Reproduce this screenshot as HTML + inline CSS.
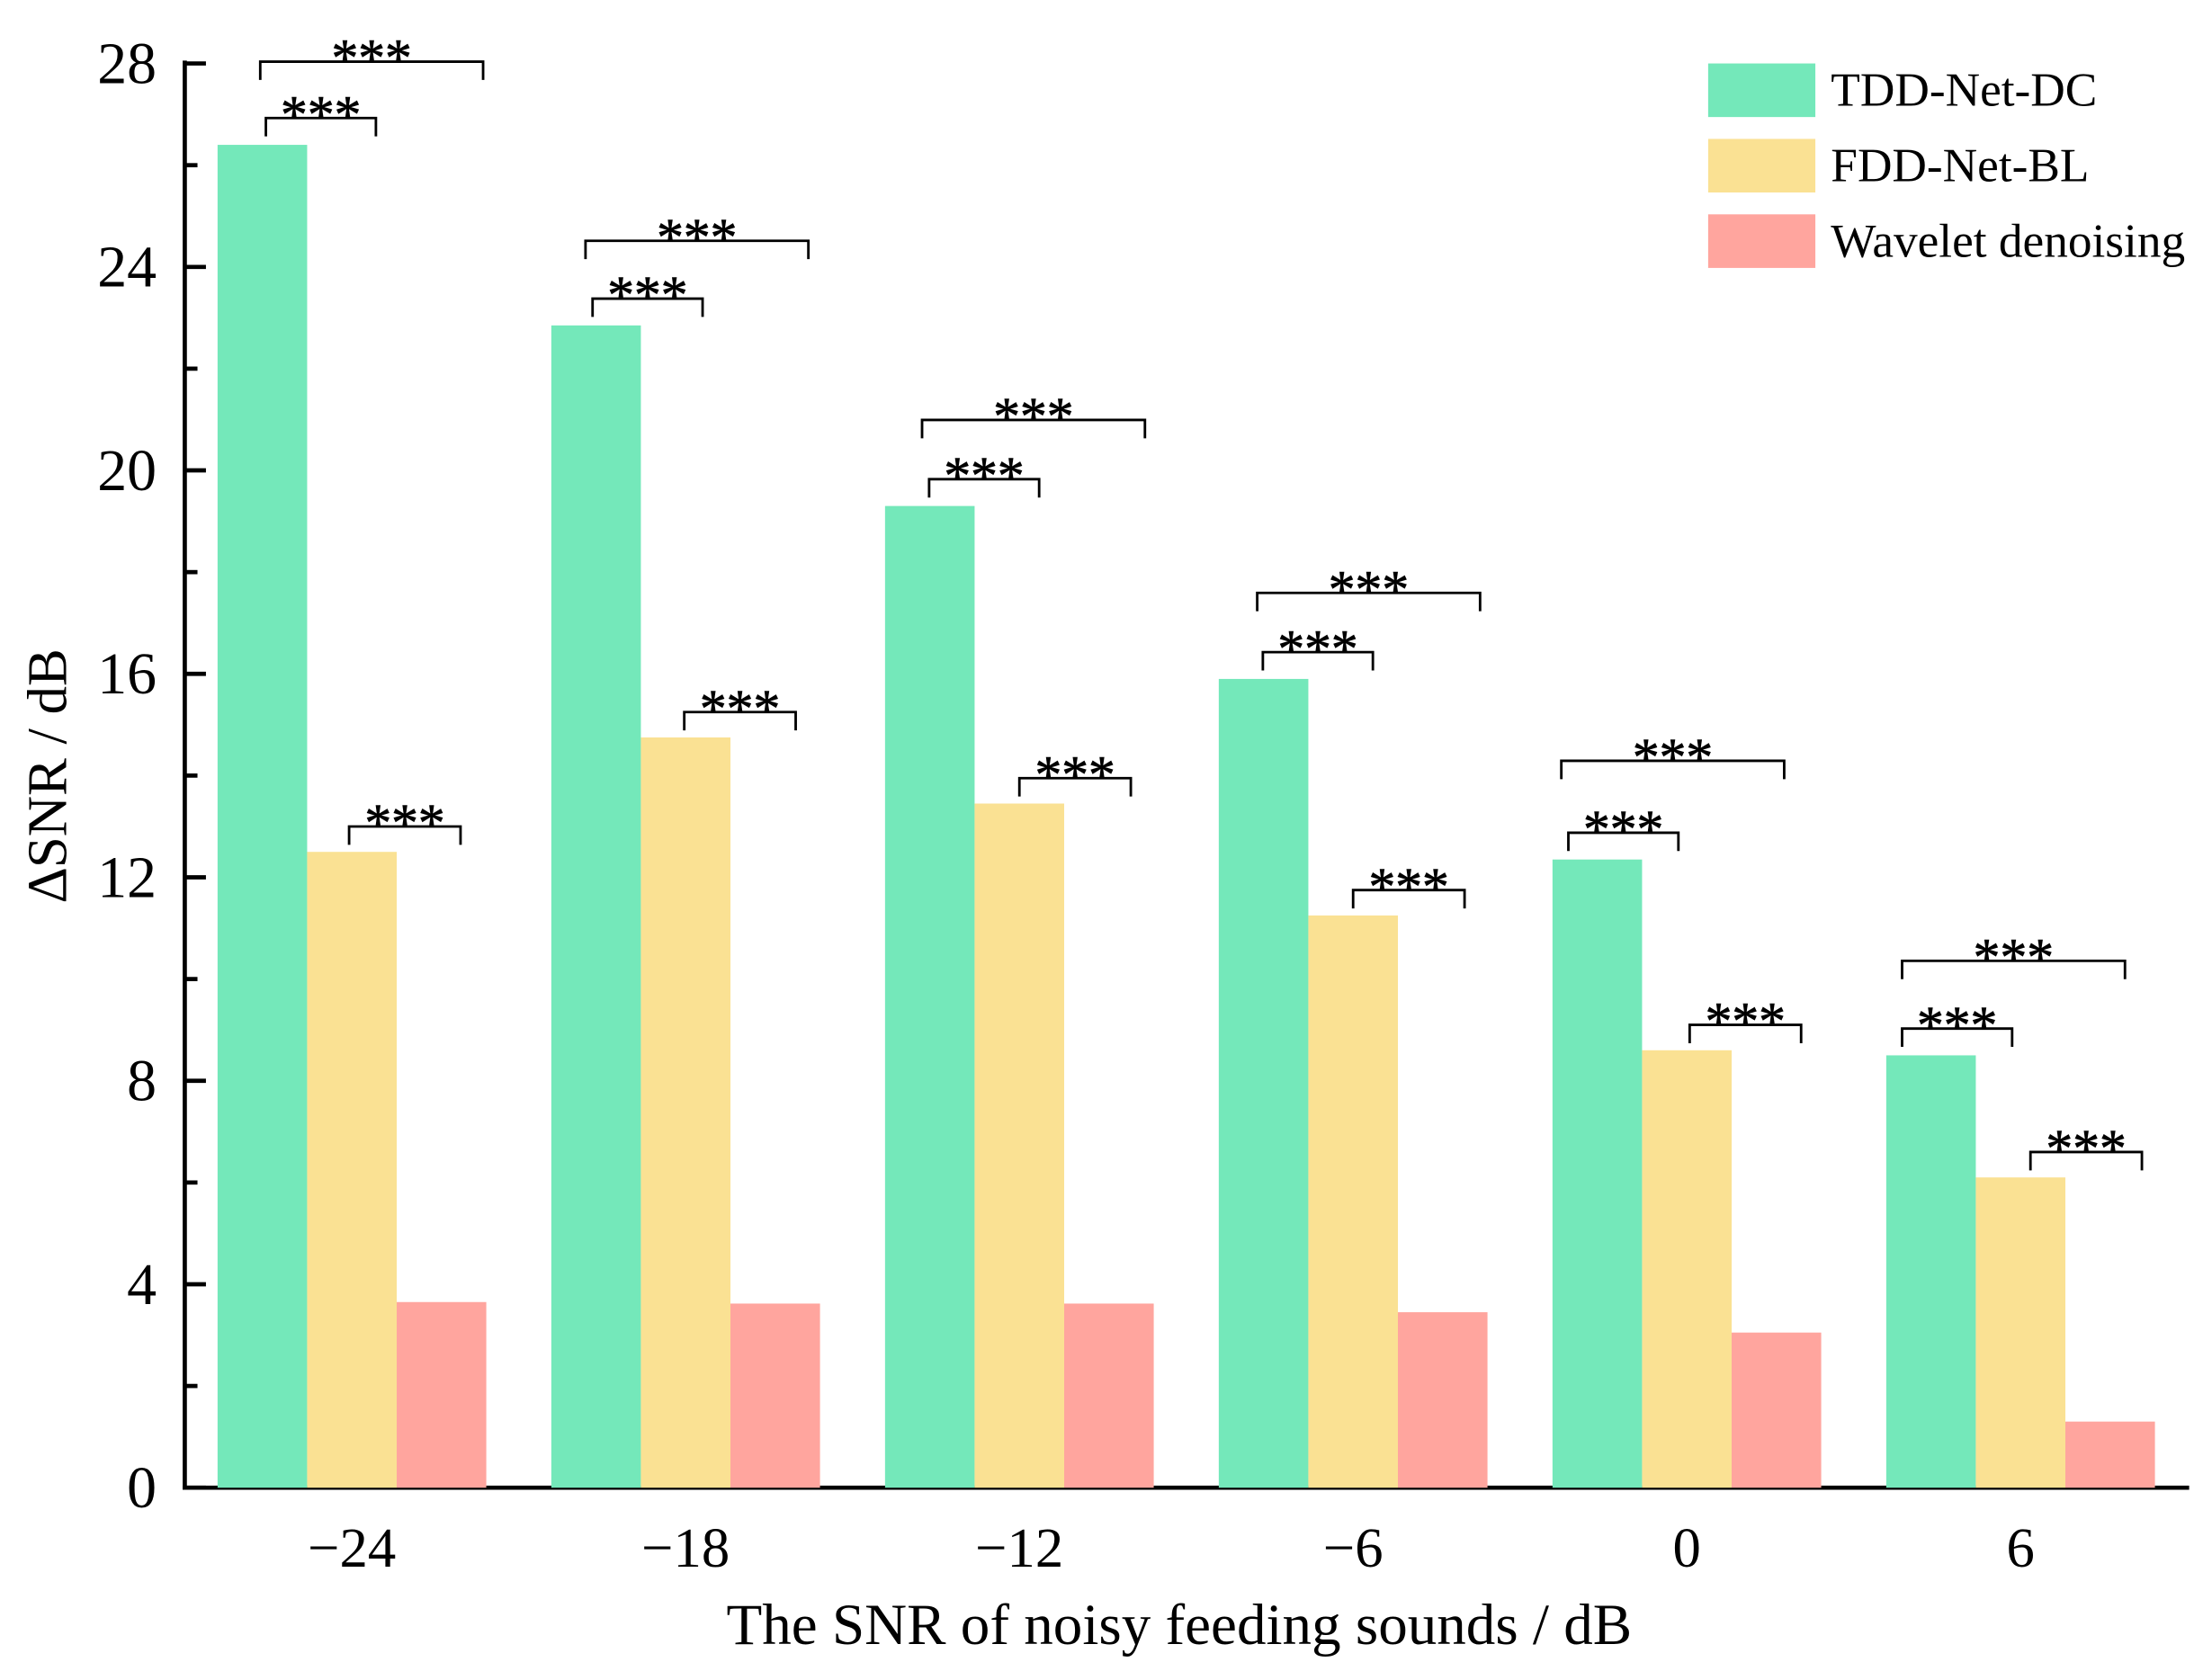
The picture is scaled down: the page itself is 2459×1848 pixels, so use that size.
<!DOCTYPE html>
<html><head><meta charset="utf-8"><style>
html,body{margin:0;padding:0;background:#fff;}
svg{display:block;}
text{font-family:"Liberation Serif",serif;fill:#000;}
</style></head><body>
<svg id="chart" width="2459" height="1848" viewBox="0 0 1568.2 1178.6" preserveAspectRatio="none" xmlns="http://www.w3.org/2000/svg">
<g id="axes"></g>
<g id="bars"></g>
<g id="sig"></g>
<g id="legend"></g>
<text x="836" y="1166" font-size="41.5" text-anchor="middle">The SNR of noisy feeding sounds / dB</text>
<text transform="translate(47,550) rotate(-90)" font-size="40" text-anchor="middle">∆SNR / dB</text>
</svg>
<script>
const categories = ["\u221224","\u221218","\u221212","\u22126","0","6"];
const seriesNames = ["TDD-Net-DC","FDD-Net-BL","Wavelet denoising"];
const tddValues = [26.4, 22.85, 19.3, 15.9, 12.35, 8.5];
const fddValues = [12.5, 14.75, 13.45, 11.25, 8.6, 6.1];
const waveletValues = [3.65, 3.62, 3.62, 3.45, 3.05, 1.3];
const yTicks = [0,4,8,12,16,20,24,28];
const sigLabels = ["***","***","***"];

const NS="http://www.w3.org/2000/svg";
const colors=["#74E8BA","#FAE193","#FFA59E"];
const X0=131, X1=1552, Y0=1055, Y28=45;
const y = v => Y0 - (v/28)*(Y0-Y28);
const groupStep=236.6, firstCenter=249.5, barW=63.5;
const xc = i => firstCenter + i*groupStep;
const innerL=[-61,-66,-64,-64,-84,-84];
const outerL=[-65,-71,-69,-68,-89,-84];
const yrL=[-2,-1,0,0,2,7];
const outerGap=[40,41,42,42,51,48];
function mk(tag, attrs, parent){const e=document.createElementNS(NS,tag);for(const k in attrs)e.setAttribute(k,attrs[k]);parent.appendChild(e);return e;}
const axes=document.getElementById('axes'), bars=document.getElementById('bars'), sig=document.getElementById('sig'), legend=document.getElementById('legend');
const all=[tddValues,fddValues,waveletValues];

all.forEach((vals,s)=>{vals.forEach((v,i)=>{
  const r=mk('rect',{x:xc(i)+(s-1.5)*barW,y:y(v),width:barW,height:Y0-y(v),fill:colors[s]},bars);
  
  
});});

let l=mk('line',{x1:X0,y1:Y28-2,x2:X0,y2:Y0+1.5,stroke:'#000','stroke-width':3},axes);


l=mk('line',{x1:X0-1.5,y1:Y0,x2:X1,y2:Y0,stroke:'#000','stroke-width':3},axes);


for(let v=2;v<28;v+=4){mk('line',{x1:X0,y1:y(v),x2:X0+9,y2:y(v),stroke:'#000','stroke-width':3},axes);}
yTicks.forEach(v=>{
  mk('line',{x1:X0,y1:y(v),x2:X0+15,y2:y(v),stroke:'#000','stroke-width':3},axes);
  const t=mk('text',{x:X0-20,y:y(v)+14,'font-size':42,'text-anchor':'end'},axes);
  t.textContent=v;
  
  
});
categories.forEach((c,i)=>{
  mk('line',{x1:xc(i),y1:Y0,x2:xc(i),y2:Y0-13,stroke:'#000','stroke-width':2},axes);
  const t=mk('text',{x:xc(i),y:1111,'font-size':40,'text-anchor':'middle'},axes);
  t.textContent=c;
  
  
});

function bracket(xa,xb,yl,leg,label){
  mk('path',{d:`M${xa},${yl+leg}V${yl}H${xb}V${yl+leg}`,fill:'none',stroke:'#000','stroke-width':1.8},sig);
  const t=mk('text',{x:(xa+xb)/2,y:yl+10,'font-size':38,'text-anchor':'middle',stroke:'#000','stroke-width':0.5},sig);
  t.textContent=label;
  
  
}
categories.forEach((c,i)=>{
  const g=xc(i);
  const inner=y(tddValues[i])-19;
  bracket(g+innerL[i],g+innerL[i]+78,inner,13,sigLabels[0]);
  bracket(g+outerL[i],g+outerL[i]+158,inner-outerGap[i],13,sigLabels[1]);
  bracket(g+yrL[i],g+yrL[i]+79,y(fddValues[i])-18,13,sigLabels[2]);
});

seriesNames.forEach((n,s)=>{
  const yy=45+s*53.5;
  const r=mk('rect',{x:1211,y:yy,width:76,height:38,fill:colors[s]},legend);
  
  
  const t=mk('text',{x:1298,y:yy+30,'font-size':34},legend);
  t.textContent=n;
  
  
});
</script>
</body></html>
